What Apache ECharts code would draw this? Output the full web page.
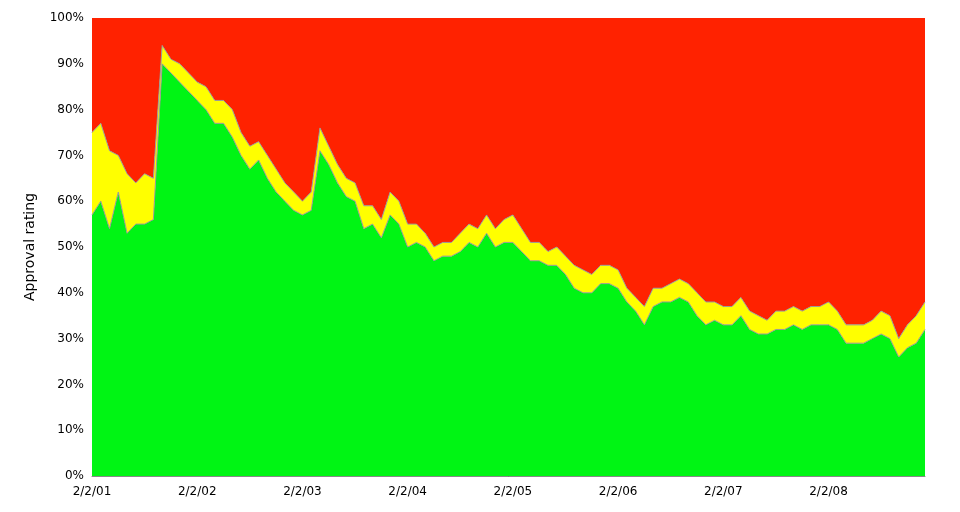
<!DOCTYPE html>
<html><head><meta charset="utf-8">
<script src="https://cdn.jsdelivr.net/npm/echarts@6/dist/echarts.min.js"></script>
<style>html,body{margin:0;padding:0;background:#fff}#c{width:960px;height:512px}</style>
</head><body><div id="c"></div>
<script>
var months = ['2/2/01','3/2/01','4/2/01','5/2/01','6/2/01','7/2/01','8/2/01','9/2/01','10/2/01','11/2/01','12/2/01','1/2/02',
'2/2/02','3/2/02','4/2/02','5/2/02','6/2/02','7/2/02','8/2/02','9/2/02','10/2/02','11/2/02','12/2/02','1/2/03',
'2/2/03','3/2/03','4/2/03','5/2/03','6/2/03','7/2/03','8/2/03','9/2/03','10/2/03','11/2/03','12/2/03','1/2/04',
'2/2/04','3/2/04','4/2/04','5/2/04','6/2/04','7/2/04','8/2/04','9/2/04','10/2/04','11/2/04','12/2/04','1/2/05',
'2/2/05','3/2/05','4/2/05','5/2/05','6/2/05','7/2/05','8/2/05','9/2/05','10/2/05','11/2/05','12/2/05','1/2/06',
'2/2/06','3/2/06','4/2/06','5/2/06','6/2/06','7/2/06','8/2/06','9/2/06','10/2/06','11/2/06','12/2/06','1/2/07',
'2/2/07','3/2/07','4/2/07','5/2/07','6/2/07','7/2/07','8/2/07','9/2/07','10/2/07','11/2/07','12/2/07','1/2/08',
'2/2/08','3/2/08','4/2/08','5/2/08','6/2/08','7/2/08','8/2/08','9/2/08','10/2/08','11/2/08','12/2/08','1/2/09'];
var approve = [57,60,54,62,53,55,55,56,90,88,86,84,
82,80,77,77,74,70,67,69,65,62,60,58,
57,58,71,68,64,61,60,54,55,52,57,55,
50,51,50,47,48,48,49,51,50,53,50,51,
51,49,47,47,46,46,44,41,40,40,42,42,
41,38,36,33,37,38,38,39,38,35,33,34,
33,33,35,32,31,31,32,32,33,32,33,33,
33,32,29,29,29,30,31,30,26,28,29,32];
var approvePlusUnsure = [75,77,71,70,66,64,66,65,94,91,90,88,
86,85,82,82,80,75,72,73,70,67,64,62,
60,62,76,72,68,65,64,59,59,56,62,60,
55,55,53,50,51,51,53,55,54,57,54,56,
57,54,51,51,49,50,48,46,45,44,46,46,
45,41,39,37,41,41,42,43,42,40,38,38,
37,37,39,36,35,34,36,36,37,36,37,37,
38,36,33,33,33,34,36,35,30,33,35,38];
var unsure = approvePlusUnsure.map(function(v,i){return v-approve[i];});
var disapprove = approvePlusUnsure.map(function(v){return 100-v;});
var yTicks = [0,10,20,30,40,50,60,70,80,90,100];

var chart = echarts.init(document.getElementById('c'));
var font = 'DejaVu Sans';
function s(name, data, color){
  return {name:name,type:'line',stack:'t',data:data,symbol:'none',
    lineStyle:{width:1,color:'#999'},areaStyle:{color:color,opacity:1},z:2};
}
chart.setOption({
  animation:false,
  grid:{left:92,right:35,top:18,bottom:36},
  xAxis:{type:'category',data:months,boundaryGap:false,
    axisLine:{lineStyle:{color:'#888'}},
    axisTick:{show:false},
    axisLabel:{interval:function(i,v){return v.indexOf('2/2/')===0;},color:'#000',fontFamily:font,fontSize:12,margin:10},
    splitLine:{show:true,interval:function(i,v){return v.indexOf('2/2/')===0;},lineStyle:{color:'#555',type:'dotted'}}},
  yAxis:{type:'value',min:0,max:100,interval:10,
    name:'Approval rating',nameLocation:'middle',nameGap:55,nameTextStyle:{color:'#000',fontFamily:font,fontSize:14},
    axisLine:{show:false},axisTick:{show:false},
    axisLabel:{formatter:function(v){return yTicks.indexOf(v)>=0?v+'%':'';},color:'#000',fontFamily:font,fontSize:12},
    splitLine:{show:true,lineStyle:{color:'#555',type:'dotted'}}},
  series:[s('Approve',approve,'#00f514'),s('Unsure',unsure,'#ffff00'),
    {name:'Disapprove',type:'line',stack:'t',data:disapprove,symbol:'none',lineStyle:{width:0},areaStyle:{color:'#ff2200',opacity:1},z:1}]
});
</script></body></html>
